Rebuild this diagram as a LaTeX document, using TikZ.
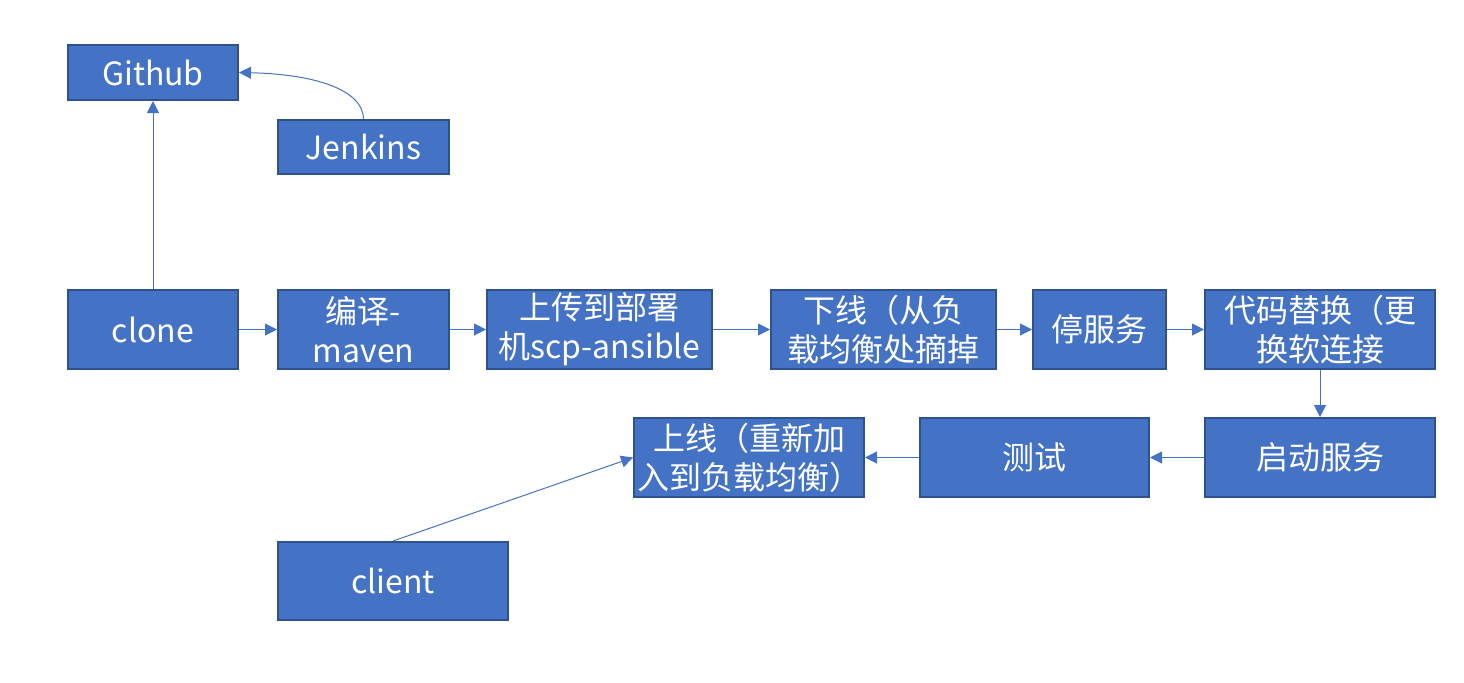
\documentclass[tikz,border=0pt]{standalone}
\usepackage{fontspec}
\setmainfont{Noto Sans CJK SC}
\usetikzlibrary{arrows.meta}
\definecolor{boxfill}{HTML}{4472C4}
\definecolor{boxline}{HTML}{2F528F}
\definecolor{arrowline}{HTML}{4472C4}
\tikzset{
  stepbox/.style={draw=boxline, line width=1pt, fill=boxfill, text=white,
    inner sep=0pt, align=center, font=\fontsize{16}{19.5}\selectfont},
  flow/.style={draw=arrowline, line width=0.5pt,
    -{Triangle[length=6pt,width=6pt]}}
}
\begin{document}
\begin{tikzpicture}[x=0.5pt,y=-0.5pt]
  \useasboundingbox (0,0) rectangle (1464,682);
  % top row
  \node[stepbox, minimum width=85pt, minimum height=27.5pt] (github) at (153,72.5) {Github};
  \node[stepbox, minimum width=85.5pt, minimum height=27pt] (jenkins) at (363.5,147) {Jenkins};
  % pipeline
  \node[stepbox, minimum width=85pt, minimum height=39.5pt] (clone) at (153,329.5) {clone};
  \node[stepbox, minimum width=85.5pt, minimum height=39.5pt] (maven) at (363.5,329.5) {编译-\\maven};
  \node[stepbox, minimum width=112.5pt, minimum height=39.5pt] (upload) at (599.5,329.5) {上传到部署\\机scp-ansible};
  \node[stepbox, minimum width=112.5pt, minimum height=39.5pt] (offline) at (883.5,329.5) {下线（从负\\载均衡处摘掉};
  \node[stepbox, minimum width=66.5pt, minimum height=39.5pt] (stop) at (1099.5,329.5) {停服务};
  \node[stepbox, minimum width=115pt, minimum height=39.5pt] (swap) at (1320,329.5) {代码替换（更\\换软连接};
  \node[stepbox, minimum width=115pt, minimum height=39.5pt] (start) at (1320,457.5) {启动服务};
  \node[stepbox, minimum width=114.5pt, minimum height=39.5pt] (test) at (1034.5,457.5) {测试};
  \node[stepbox, minimum width=115pt, minimum height=39.5pt] (online) at (749,457.5) {上线（重新加\\入到负载均衡）};
  \node[stepbox, minimum width=115pt, minimum height=39pt] (client) at (393,581) {client};
  % connectors
  \draw[flow] (jenkins.north) .. controls (363,88) and (310,74) .. (github.east);
  \draw[flow] (clone.north) -- (github.south);
  \draw[flow] (clone) -- (maven);
  \draw[flow] (maven) -- (upload);
  \draw[flow] (upload) -- (offline);
  \draw[flow] (offline) -- (stop);
  \draw[flow] (stop) -- (swap);
  \draw[flow] (swap) -- (start);
  \draw[flow] (start) -- (test);
  \draw[flow] (test) -- (online);
  \draw[flow] (client.north) -- (online.west);
\end{tikzpicture}
\end{document}
